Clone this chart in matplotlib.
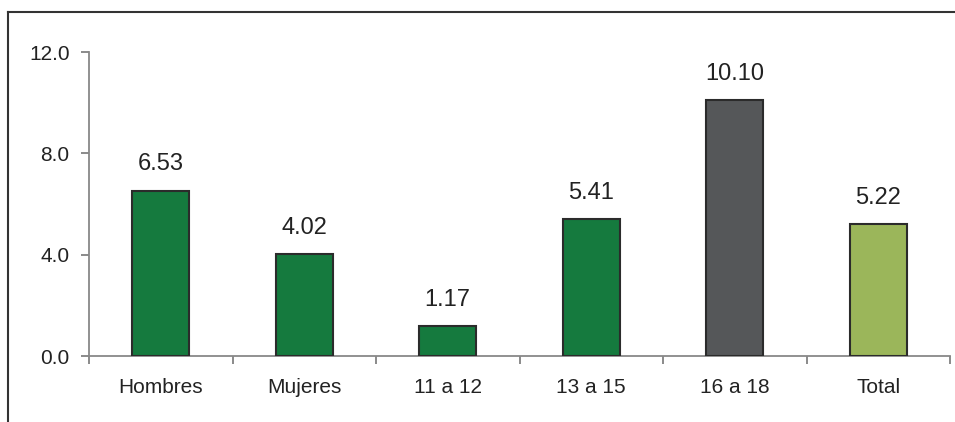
import numpy as np
import matplotlib.pyplot as plt
from matplotlib.lines import Line2D

categorias = ["Hombres", "Mujeres", "11 a 12", "13 a 15", "16 a 18", "Total"]
valores = [6.53, 4.02, 1.17, 5.41, 10.10, 5.22]
etiquetas = ["6.53", "4.02", "1.17", "5.41", "10.10", "5.22"]
colores = ["#157A3E", "#157A3E", "#157A3E", "#157A3E", "#555759", "#9BB65A"]

plt.rcParams['font.family'] = ['Liberation Sans', 'DejaVu Sans']

fig = plt.figure(figsize=(9.55, 4.22), dpi=100)
ax = fig.add_axes([89/955, 66/422, 861/955, 304/422])

x = np.arange(len(categorias))
ax.bar(x, valores, width=0.4, color=colores, edgecolor="#2b2b2b", linewidth=1.5, zorder=3)
for xi, v, t in zip(x, valores, etiquetas):
    ax.text(xi, v + 0.6, t, ha="center", va="bottom", fontsize=17, color="#222222")

ax.set_xlim(-0.5, len(categorias) - 0.5)
ax.set_ylim(0, 12)
ax.set_yticks([0, 4, 8, 12])
ax.set_yticklabels(["0.0", "4.0", "8.0", "12.0"], fontsize=15, color="#222222")
ax.set_xticks(x)
ax.set_xticklabels(categorias, fontsize=15, color="#222222")
ax.tick_params(axis="x", length=0, pad=16)
ax.set_xticks(np.arange(-0.5, len(categorias)), minor=True)
ax.tick_params(axis="x", which="minor", length=6, color="#777777", width=1.2)
ax.tick_params(axis="y", length=6, color="#777777", width=1.2, pad=8)

for s in ["top", "right"]:
    ax.spines[s].set_visible(False)
for s in ["left", "bottom"]:
    ax.spines[s].set_color("#888888")
    ax.spines[s].set_linewidth(1.3)

# marco exterior
fig.add_artist(Line2D([8/955, 8/955], [0, 1 - 12/422], transform=fig.transFigure, color="#333333", lw=1.5))
fig.add_artist(Line2D([8/955, 1], [1 - 12/422, 1 - 12/422], transform=fig.transFigure, color="#333333", lw=1.5))

fig.savefig("out.png", dpi=100)
